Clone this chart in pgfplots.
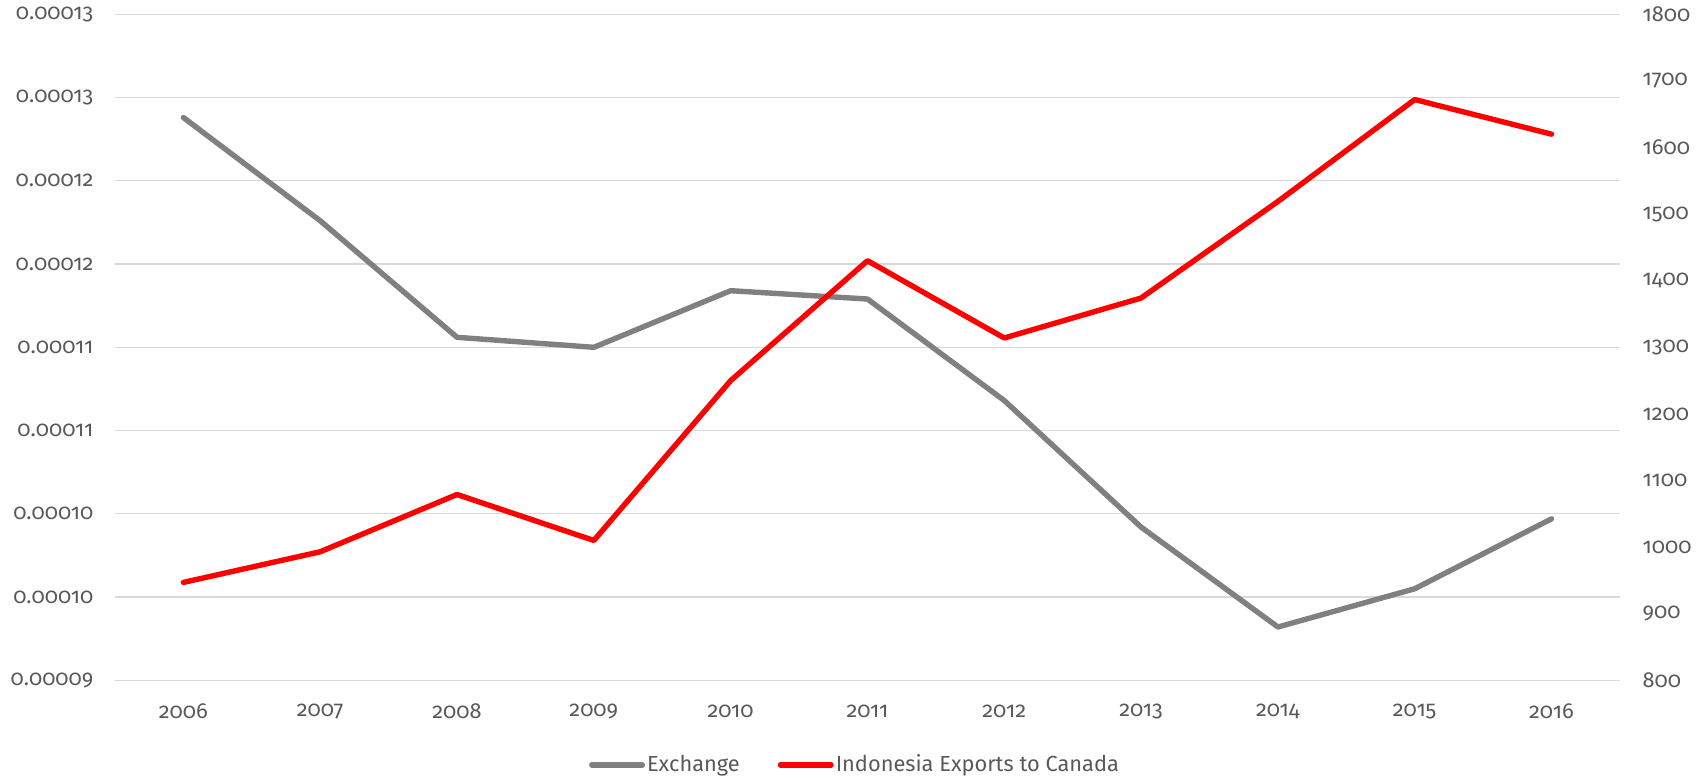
\documentclass[border=0pt]{standalone}
\usepackage{fontspec}
\setmainfont{Fira Sans}[Numbers=OldStyle]
\usepackage{pgfplots}
\usepackage{pgfplotstable}
\pgfplotsset{compat=1.18}
\definecolor{txt}{HTML}{595959}
\definecolor{gridc}{HTML}{D9D9D9}
\definecolor{exch}{HTML}{808080}
\definecolor{expc}{HTML}{FF0000}

\pgfplotstableread{
year exchange
2006 0.0001238
2007 0.0001176
2008 0.0001106
2009 0.0001100
2010 0.0001134
2011 0.0001129
2012 0.0001068
2013 0.0000992
2014 0.0000932
2015 0.0000955
2016 0.0000997
}\exchdata

\pgfplotstableread{
year exports
2006 947
2007 993
2008 1079
2009 1010
2010 1250
2011 1430
2012 1314
2013 1374
2014 1519
2015 1672
2016 1620
}\expdata

\begin{document}
\begin{tikzpicture}
\pgfplotsset{
  base/.style={
    scale only axis, width=752.5pt, height=333pt,
    xmin=2005.5, xmax=2016.5,
    axis line style={draw=none},
    major tick length=0pt,
    tick style={draw=none},
    tick label style={text=txt, font=\fontsize{10.9}{12}\selectfont},
    /pgf/number format/assume math mode=true,
    /pgf/number format/1000 sep={},
    clip=false,
  }
}
\begin{axis}[base,
  ymin=0.00009, ymax=0.00013,
  scaled y ticks=false,
  ytick={0.00009,0.000095,0.0001,0.000105,0.00011,0.000115,0.00012,0.000125,0.00013},
  yticklabels={0.00009,0.00010,0.00010,0.00011,0.00011,0.00012,0.00012,0.00013,0.00013},
  ymajorgrids,
  major grid style={gridc, line width=0.6pt},
  xtick={2006,2007,...,2016},
  xticklabel style={anchor=center, yshift=-15.5pt},
  yticklabel style={anchor=east, xshift=-7.3pt},
]
\addplot[exch, line width=2.7pt, line join=round, line cap=round] table[x=year,y=exchange]{\exchdata};
\end{axis}
\begin{axis}[base,
  axis y line*=right,
  axis x line=none,
  ymin=800, ymax=1800,
  ytick={800,900,...,1800},
  yticklabel style={anchor=west, xshift=7.8pt},
  legend style={at={(0.4917,-0.127)}, anchor=center, draw=none, fill=none,
    legend columns=2, font=\fontsize{10.9}{12}\selectfont, text=txt,
    nodes={inner sep=1pt},
    /tikz/every even column/.append style={column sep=18pt}},
  legend image code/.code={\draw[#1, line cap=round] (1.35pt,0pt) -- (26.65pt,0pt);},
]
\addlegendimage{exch, line width=2.7pt}
\addlegendentry{Exchange}
\addplot[expc, line width=2.7pt, line join=round, line cap=round] table[x=year,y=exports]{\expdata};
\addlegendentry{Indonesia Exports to Canada}
\end{axis}
\pgfresetboundingbox
\path (-57.5pt,-48.75pt) rectangle (796.5pt,340.15pt);
\end{tikzpicture}
\end{document}
